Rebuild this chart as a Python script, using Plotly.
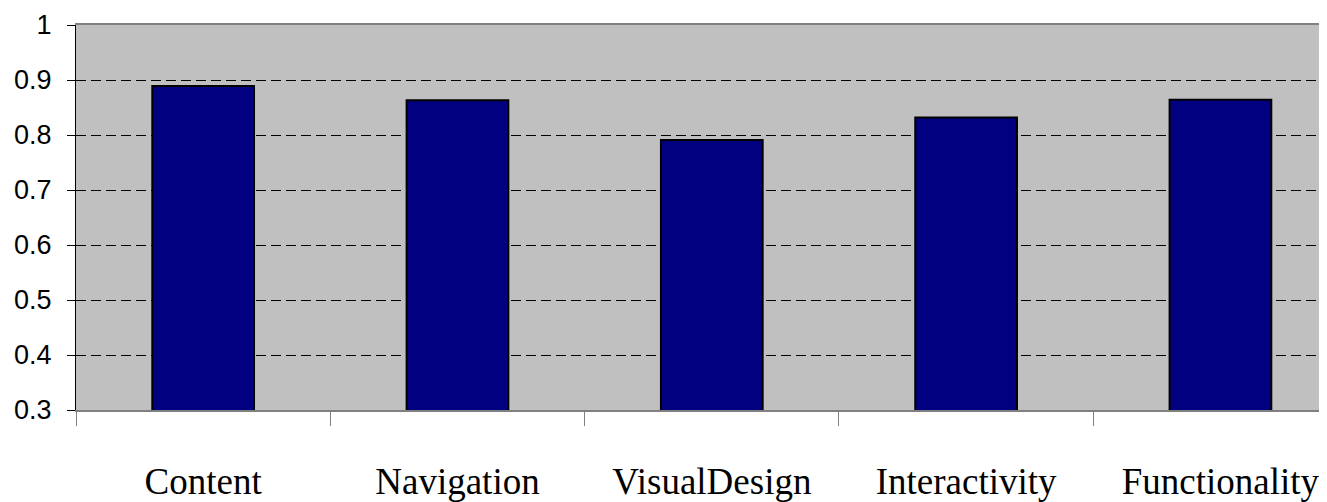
import plotly.graph_objects as go

categories = ["Content", "Navigation", "VisualDesign", "Interactivity", "Functionality"]
values = [0.889, 0.863, 0.791, 0.832, 0.864]
y_ticks = [0.3, 0.4, 0.5, 0.6, 0.7, 0.8, 0.9, 1]
y_tick_labels = ["0.3", "0.4", "0.5", "0.6", "0.7", "0.8", "0.9", "1"]

fig = go.Figure()
fig.add_trace(go.Bar(
    x=categories, y=values, width=0.4,
    marker=dict(color="#000080", line=dict(color="#000000", width=2)),
    base=0,
))

# page body has an 8px default margin; compensate so the plot lands where the reference has it
fig.update_layout(
    width=1319, height=494,
    margin=dict(l=68, r=0, t=17, b=92),
    paper_bgcolor="white",
    plot_bgcolor="#C0C0C0",
    showlegend=False,
)
fig.update_xaxes(
    type="category",
    range=[-0.5, 4.419],
    tickson="boundaries",
    ticks="outside", ticklen=14, tickcolor="#808080", tickwidth=1,
    showline=True, linecolor="#808080", linewidth=2, mirror=True,
    showgrid=False,
    tickfont=dict(family="Liberation Serif", size=37, color="black"),
    ticklabelstandoff=38,
)
fig.update_yaxes(
    range=[0.3, 1.0],
    tickvals=y_ticks, ticktext=y_tick_labels,
    ticks="outside", ticklen=8, tickcolor="black", tickwidth=1,
    showline=True, linecolor="black", linewidth=1,
    showgrid=True, gridcolor="black", griddash="10px,5px", gridwidth=1,
    zeroline=False,
    tickfont=dict(family="Liberation Sans", size=27, color="black"),
    ticklabelstandoff=10,
)

fig.write_html("out.html")
